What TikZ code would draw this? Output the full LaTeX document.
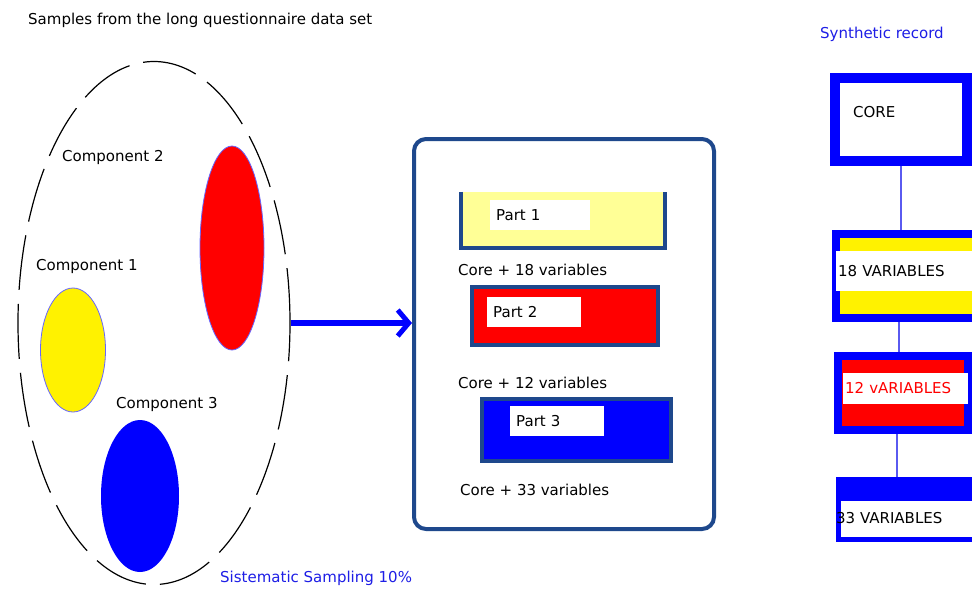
\documentclass[tikz,border=0pt]{standalone}
\usepackage{fontspec}
\setmainfont{DejaVu Sans}
\usetikzlibrary{shapes.geometric,arrows.meta}
\definecolor{dkblue}{RGB}{30,72,140}
\definecolor{lightyel}{RGB}{255,255,150}
\definecolor{pureblue}{RGB}{0,0,255}
\definecolor{connblue}{RGB}{90,90,240}
\definecolor{txtblue}{RGB}{30,30,230}
\begin{document}
\begin{tikzpicture}[x=1pt,y=-1pt,
  every node/.style={font=\fontsize{15}{17}\selectfont},
  lbl/.style={inner sep=0pt,anchor=west},
  comp/.style={ellipse,inner sep=0pt,draw=blue!60,line width=0.8pt},
  partbox/.style={draw=dkblue,line width=4pt,inner sep=0pt},
  whitelbl/.style={fill=white,anchor=west,inner xsep=6pt,inner ysep=0pt,minimum height=30pt,align=left},
  recbox/.style={draw=pureblue,inner sep=0pt},
  band/.style={fill=white,anchor=west,inner xsep=2pt,inner ysep=0pt,align=left},
  conn/.style={draw=connblue,line width=2pt}]
\useasboundingbox (0,0) rectangle (972,590);
\clip (0,0) rectangle (972,590);
\fill[white] (0,0) rectangle (972,590);

% title
\node[lbl] (title) at (28,20) {Samples from the long questionnaire data set};

% population ellipse
\node[ellipse,draw=black,line width=1.2pt,dash pattern=on 55pt off 14pt,
      minimum width=272pt,minimum height=523pt,inner sep=0pt] (pop) at (154,323) {};

% components
\node[comp,fill=red,minimum width=64pt,minimum height=204pt] (c2) at (232,248) {};
\node[comp,fill=yellow,minimum width=65pt,minimum height=124pt] (c1) at (73,350) {};
\node[ellipse,fill=pureblue,inner sep=0pt,minimum width=78pt,minimum height=152pt] (c3) at (140,496) {};
\node[lbl] (c2t) at (62,157) {Component 2};
\node[lbl] (c1t) at (36,266) {Component 1};
\node[lbl] (c3t) at (116,404) {Component 3};

% sample container
\node[draw=dkblue,line width=4pt,rounded corners=12pt,minimum width=300pt,
      minimum height=390pt,inner sep=0pt] (bag) at (564,334) {};
\draw[pureblue,line width=6pt,-{Straight Barb[length=11pt,width=26pt,line width=5pt]}]
  (pop.east) -- (pop.east -| bag.west);

% part 1
\node[fill=lightyel,inner sep=0pt,minimum width=204pt,minimum height=56pt] (p1) at (563,220) {};
\draw[dkblue,line width=4pt] (p1.north west) -- (p1.south west) -- (p1.south east) -- (p1.north east);
\node[whitelbl,text width=88pt] (p1t) at (490,215) {Part 1};
\node[lbl] (k1) at (458,270) {Core + 18 variables};

% part 2
\node[partbox,fill=red,minimum width=186pt,minimum height=58pt] (p2) at (565,316) {};
\node[whitelbl,text width=82pt] (p2t) at (487,312) {Part 2};
\node[lbl] (k2) at (458,383) {Core + 12 variables};

% part 3
\node[partbox,fill=pureblue,minimum width=189pt,minimum height=62pt] (p3) at (576,430) {};
\node[whitelbl,text width=82pt] (p3t) at (510,421) {Part 3};
\node[lbl] (k3) at (460,490) {Core + 33 variables};

\node[lbl,text=txtblue] (samp) at (220,578) {Sistematic Sampling 10\%};

% synthetic record
\node[lbl,text=txtblue] (syn) at (820,34) {Synthetic record};
\node[recbox,line width=10pt,fill=white,minimum width=132pt,minimum height=83pt] (core) at (901,119) {};
\node[lbl] (coret) at (853,112) {CORE};

\node[recbox,line width=8pt,fill=yellow,minimum width=144pt,minimum height=84pt] (v18) at (908,276) {};
\node[band,minimum width=136pt,minimum height=40pt,text width=132pt] (v18t) at (836,271) {18 VARIABLES};

\node[recbox,line width=8pt,fill=red,minimum width=130pt,minimum height=74pt] (v12) at (903,393) {};
\node[band,minimum width=125pt,minimum height=31pt,text width=121pt,text=red] (v12t) at (843,388) {12 vARIABLES};

\node[recbox,line width=5pt,fill=white,minimum width=136pt,minimum height=60pt] (v33) at (906,509) {};
\fill[pureblue] (v33.north west) rectangle ([yshift=-24pt]v33.north east);
\node[lbl] (v33t) at (836,518) {33 VARIABLES};

\draw[conn] (core.south) -- (core.south |- v18.north);
\draw[conn] ([xshift=-9pt]v18.south) -- ([xshift=-9pt]v18.south |- v12.north);
\draw[conn] ([xshift=-6pt]v12.south) -- ([xshift=-6pt]v12.south |- v33.north);
\end{tikzpicture}
\end{document}
